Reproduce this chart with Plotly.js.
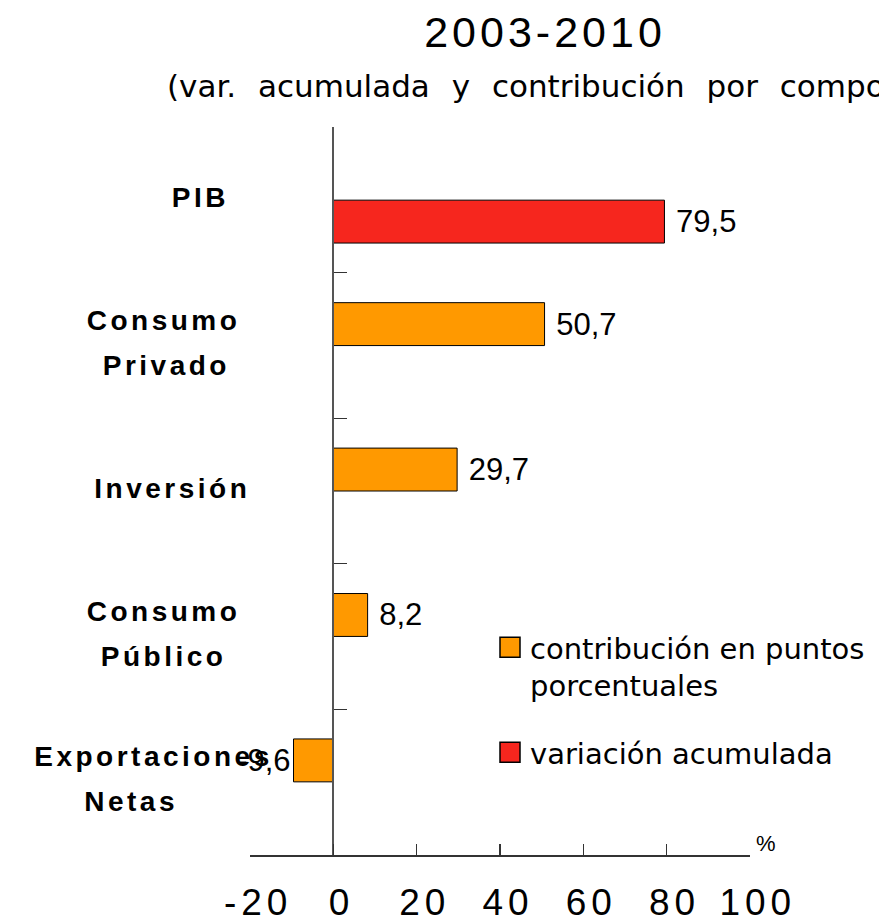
<!DOCTYPE html>
<html>
<head>
<meta charset="utf-8">
<script src="https://cdn.plot.ly/plotly-3.0.1.min.js"></script>
<style>
  body { margin: 0; background: #fff; }
  .xtick text { letter-spacing: 5px; }
  .gtitle { letter-spacing: 4px; }
  .annotation text { letter-spacing: 3.5px; }
  .annotation[data-index="8"] text { letter-spacing: 0; word-spacing: 12px; }
  .annotation[data-index="9"] text { letter-spacing: 0; }
</style>
</head>
<body>
<div id="chart" style="width:879px;height:924px;"></div>
<script>
// ---- data ----
const categories = ['PIB', 'Consumo Privado', 'Inversión', 'Consumo Público', 'Exportaciones Netas'];
const contribucion = [null, 50.7, 29.7, 8.2, -9.6];   // contribución en puntos porcentuales
const variacion = [79.5, null, null, null, null];     // variación acumulada
const xTicks = [-20, 0, 20, 40, 60, 80, 100];
const seriesNames = ['contribución en puntos<br>porcentuales', 'variación acumulada'];
const titleText = '2003-2010';
const subtitleText = '(var. acumulada y contribución por componentes)';
const unitText = '%';

// ---- helpers / styling ----
const label = v => (v === null ? '' : String(v).replace('.', ','));
const ORANGE = '#FF9900', RED = '#F6261E';
const L = 250, R = 129, T = 127, B = 69, W = 879, H = 924;
const pw = W - L - R, ph = H - T - B;
const px2x = p => (p - L) / pw;
const py2y = p => (H - B - p) / ph;
const FONT = 'Liberation Sans, Arial, sans-serif';
const FONT2 = 'DejaVu Sans, Verdana, sans-serif';

const traceStyle = {
  type: 'bar', orientation: 'h', textposition: 'outside', cliponaxis: false,
  constraintext: 'none',
  textfont: { family: FONT, size: 31, color: '#000' },
  hoverinfo: 'none'
};

const data = [
  Object.assign({}, traceStyle, {
    y: categories, x: contribucion, name: seriesNames[0],
    text: contribucion.map(v => v === null ? '' : (v < 0 ? label(v) : '\u00a0' + label(v))),
    marker: { color: ORANGE, line: { color: '#000', width: 1 } },
    legend: 'legend'
  }),
  Object.assign({}, traceStyle, {
    y: categories, x: variacion, name: seriesNames[1],
    text: variacion.map(v => v === null ? '' : '\u00a0' + label(v)),
    marker: { color: RED, line: { color: '#000', width: 1 } },
    legend: 'legend2'
  })
];

// category labels, one annotation per line
const labelX = [[200], [163, 166], [172], [163, 163], [153, 131]];
const annotations = [];
categories.forEach((c, i) => {
  const lines = c.split(' ');
  lines.forEach((ln, j) => {
    const off = lines.length === 1 ? 3 : (j === 0 ? 25 : -20);
    annotations.push({
      xref: 'paper', yref: 'y', x: px2x(labelX[i][j]), y: c, yshift: off,
      xanchor: 'center', yanchor: 'middle', showarrow: false, text: ln,
      font: { family: FONT, size: 28, color: '#000', weight: 'bold' }
    });
  });
});
annotations.push({
  xref: 'paper', yref: 'paper', x: px2x(584), y: py2y(86), xanchor: 'center', yanchor: 'middle',
  showarrow: false, text: subtitleText,
  font: { family: FONT2, size: 31, color: '#000' }
});
annotations.push({
  xref: 'paper', yref: 'paper', x: px2x(766), y: py2y(843), xanchor: 'center', yanchor: 'middle',
  showarrow: false, text: unitText,
  font: { family: FONT, size: 22, color: '#000' }
});

const legendFont = { family: FONT2, size: 29, color: '#000' };

const layout = {
  width: W, height: H,
  margin: { l: L, r: R, t: T, b: B, pad: 0, autoexpand: false },
  paper_bgcolor: '#fff', plot_bgcolor: 'rgba(0,0,0,0)',
  showlegend: true,
  barmode: 'group', bargap: 0.41, bargroupgap: 0,
  title: {
    text: titleText, x: 545 / W, xref: 'container', xanchor: 'center',
    y: 1 - 32 / H, yref: 'container', yanchor: 'middle',
    font: { family: FONT, size: 43, color: '#000' }
  },
  xaxis: {
    range: [-20.05, 100.05], tickvals: xTicks, ticktext: xTicks.map(String),
    ticks: 'inside', ticklen: 11, tickwidth: 1.2, tickcolor: '#333',
    showline: true, linecolor: '#333', linewidth: 1.5,
    showgrid: false, zeroline: false, fixedrange: true,
    ticklabelstandoff: 14, ticklabelshift: 8,
    tickfont: { family: FONT, size: 37, color: '#000' }
  },
  yaxis: {
    type: 'category', categoryorder: 'array', categoryarray: categories,
    autorange: false, range: [4.503, -0.503],
    anchor: 'free', position: px2x(333),
    showticklabels: false, tickson: 'boundaries',
    ticks: 'inside', ticklen: 13, tickwidth: 1.2, tickcolor: '#333',
    showline: true, linecolor: '#555', linewidth: 2,
    showgrid: false, zeroline: false, fixedrange: true
  },
  legend: {
    x: px2x(490), y: py2y(622), xanchor: 'left', yanchor: 'top',
    bgcolor: 'rgba(0,0,0,0)', borderwidth: 0, valign: 'top',
    font: legendFont
  },
  legend2: {
    x: px2x(490), y: py2y(727), xanchor: 'left', yanchor: 'top',
    bgcolor: 'rgba(0,0,0,0)', borderwidth: 0, valign: 'top',
    font: legendFont
  },
  annotations: annotations
};

Plotly.newPlot('chart', data, layout, { displayModeBar: false, staticPlot: true }).then(gd => {
  // enlarge legend swatches, as in the original chart
  gd.querySelectorAll('.legendpoints path').forEach(p => {
    p.setAttribute('d', 'M10,10H-10V-10H10Z');
    p.style.strokeWidth = '1.5px';
    p.style.stroke = '#000';
  });
});
</script>
</body>
</html>
